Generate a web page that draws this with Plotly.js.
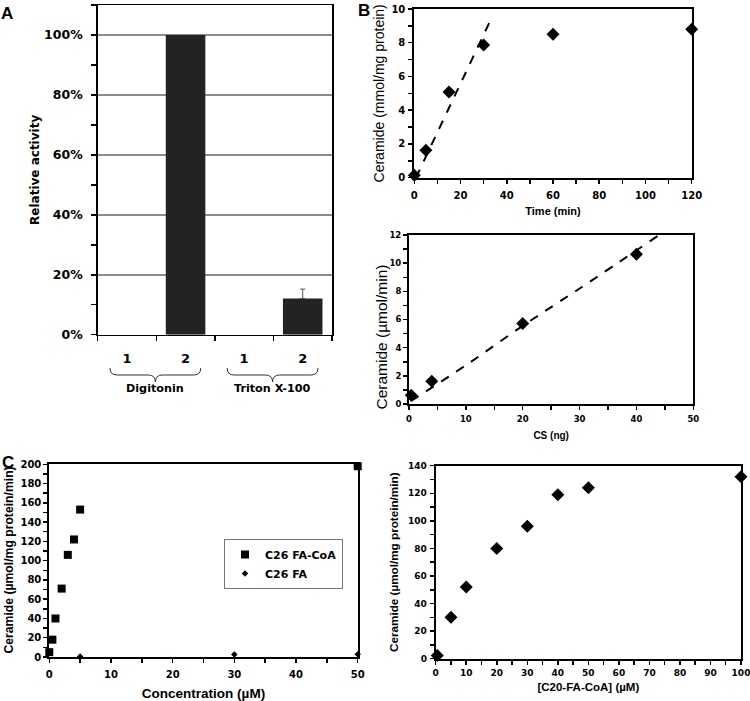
<!DOCTYPE html>
<html><head><meta charset="utf-8">
<script src="https://cdn.plot.ly/plotly-3.0.1.min.js"></script>
<style>html,body{margin:0;padding:0;background:#fff}#chart{width:750px;height:701px}</style>
</head><body><div id="chart"></div>
<script>
// ---- Panel A: relative activity ----
const detergents = ['Digitonin', 'Digitonin', 'Triton X-100', 'Triton X-100'];
const conditions = ['1', '2', '1', '2'];
const relActivity = [0, 1.0, 0, 0.121];
const relActivityErr = [0, 0, 0, 0.031];
// ---- Panel B (top): time course ----
const timeMin = [0, 5, 15, 30, 60, 120];
const ceramideTime = [0.15, 1.63, 5.08, 7.86, 8.5, 8.8];
const timeFitX = [0.7, 32.5];
const timeFitY = [0, 9.2];
// ---- Panel B (bottom): CS dependence ----
const csNg = [0.4, 4, 20, 40];
const ceramideCs = [0.62, 1.62, 5.72, 10.63];
const csFitX = [0.3, 10, 20, 30, 44];
const csFitY = [0.2, 2.75, 5.55, 8.2, 12];
// ---- Panel C (left): concentration ----
const concCoA = [0, 0.5, 1, 2, 3, 4, 5, 50];
const ceramideCoA = [5, 18, 40, 71, 106, 122, 153, 198];
const concFA = [5, 30, 50];
const ceramideFA = [0.5, 2.6, 2.8];
// ---- Panel C (right): C20-FA-CoA ----
const c20Conc = [0.5, 5, 10, 20, 30, 40, 50, 100];
const ceramideC20 = [2.3, 30, 52, 80, 96, 119, 124, 132];

const W = 750, H = 701;
const dx = (a, b) => [a / W, b / W];
const dy = (top, bottom) => [1 - bottom / H, 1 - top / H];

const barX = conditions.map((_, i) => i + 1);
const errPlus = relActivityErr.map(v => v > 0 ? v : NaN);
const errMinus = relActivityErr.map(v => v > 0 ? 0 : NaN);

const black = '#000';
const WIDE = 'DejaVu Sans, Verdana, sans-serif';
const ARIAL = 'Liberation Sans, Arial, sans-serif';
const wide = (size) => ({family: WIDE, size: size, weight: 'bold', color: black});
const arial = (size, weight) => ({family: ARIAL, size: size, weight: weight || 'bold', color: black});

const traces = [
  {type: 'bar', x: barX, y: relActivity, width: 0.675, xaxis: 'x', yaxis: 'y',
   marker: {color: '#232323', line: {width: 0}}, showlegend: false, hoverinfo: 'skip',
   error_y: {type: 'data', array: errPlus, symmetric: false, arrayminus: errMinus,
             color: '#555', thickness: 1, width: 2.5}},
  {type: 'scatter', mode: 'lines', x: timeFitX, y: timeFitY, xaxis: 'x2', yaxis: 'y2',
   line: {color: black, width: 2, dash: 'dash'}, showlegend: false, hoverinfo: 'skip'},
  {type: 'scatter', mode: 'markers', x: timeMin, y: ceramideTime, xaxis: 'x2', yaxis: 'y2', cliponaxis: false,
   marker: {symbol: 'diamond', size: 10, color: black}, showlegend: false},
  {type: 'scatter', mode: 'lines', x: csFitX, y: csFitY, xaxis: 'x3', yaxis: 'y3',
   line: {color: black, width: 2, dash: 'dash', shape: 'spline'}, showlegend: false, hoverinfo: 'skip'},
  {type: 'scatter', mode: 'markers', x: csNg, y: ceramideCs, xaxis: 'x3', yaxis: 'y3', cliponaxis: false,
   marker: {symbol: 'diamond', size: 10, color: black}, showlegend: false},
  {type: 'scatter', mode: 'markers', name: 'C26 FA-CoA', x: concCoA, y: ceramideCoA, xaxis: 'x4', yaxis: 'y4', cliponaxis: false,
   marker: {symbol: 'square', size: 8, color: black}},
  {type: 'scatter', mode: 'markers', name: 'C26 FA', x: concFA, y: ceramideFA, xaxis: 'x4', yaxis: 'y4', cliponaxis: false,
   marker: {symbol: 'diamond', size: 5, color: black}},
  {type: 'scatter', mode: 'markers', x: c20Conc, y: ceramideC20, xaxis: 'x5', yaxis: 'y5', cliponaxis: false,
   marker: {symbol: 'diamond', size: 10, color: black}, showlegend: false}
];

function ax(extra) {
  return Object.assign({
    showline: true, linecolor: black, linewidth: 2, mirror: true,
    ticks: 'outside', ticklen: 4, tickwidth: 1.5, tickcolor: black,
    showgrid: false, zeroline: false, fixedrange: true, ticklabeloverflow: 'allow'
  }, extra);
}
function minor(d) { return {dtick: d, ticks: 'outside', ticklen: 4, tickwidth: 1.5, tickcolor: black, showgrid: false}; }

// Braces under panel A groups
const groups = [];
detergents.forEach((d, i) => {
  const g = groups.find(g => g.name === d);
  if (g) g.end = i + 1; else groups.push({name: d, start: i + 1, end: i + 1});
});
const yTop = 1 - 368 / H, yMid = 1 - 375 / H, yBot = 1 - 382 / H;
const shapes = groups.map(g => {
  const x0 = g.start - 0.29, x1 = g.end + 0.26, xc = (x0 + x1) / 2, d = 0.12;
  return {type: 'path', xref: 'x', yref: 'paper', line: {color: '#333', width: 1},
    path: `M ${x0},${yTop} Q ${x0},${yMid} ${x0 + d},${yMid} L ${xc - d},${yMid} Q ${xc},${yMid} ${xc},${yBot} ` +
          `Q ${xc},${yMid} ${xc + d},${yMid} L ${x1 - d},${yMid} Q ${x1},${yMid} ${x1},${yTop}`};
});
const annotations = groups.map(g => ({
  xref: 'x', yref: 'paper', x: (g.start + g.end) / 2 - 0.02, y: 1 - 388 / H, text: g.name,
  showarrow: false, font: wide(11.2), xanchor: 'center', yanchor: 'middle'
}));
[['A', 7, 13], ['B', 364, 11], ['C', 8, 463]].forEach(([t, px, py]) => annotations.push({
  xref: 'paper', yref: 'paper', x: px / W, y: 1 - py / H, text: t, showarrow: false,
  font: arial(17), xanchor: 'center', yanchor: 'middle'
}));
// rotated y titles placed where the reference puts them
annotations.push({xref: 'paper', yref: 'paper', x: 380.5 / W, y: 1 - 337 / H, text: 'Ceramide (µmol/min)',
  textangle: -90, showarrow: false, font: arial(15.5, 'normal'), xanchor: 'center', yanchor: 'middle'});
annotations.push({xref: 'paper', yref: 'paper', x: 8.5 / W, y: 1 - 560 / H, text: 'Ceramide (µmol/mg protein/min)',
  textangle: -90, showarrow: false, font: arial(12.2), xanchor: 'center', yanchor: 'middle'});

const layout = {
  width: W, height: H, margin: {l: 0, r: 0, t: 0, b: 0},
  paper_bgcolor: '#fff', plot_bgcolor: '#fff',
  font: {family: ARIAL, size: 10, color: black, weight: 'bold'},
  showlegend: true,
  legend: {x: 224 / W, y: 1 - 539 / H, xanchor: 'left', yanchor: 'top', bordercolor: '#777', borderwidth: 1,
           bgcolor: '#fff', font: wide(11), tracegroupgap: 0, itemwidth: 30},
  xaxis: ax({domain: dx(97.7, 332), anchor: 'y', range: [0.5, 4.5], tickmode: 'array', tickvals: barX,
             ticktext: conditions, ticks: '', linewidth: 1.5, tickfont: wide(13), ticklabelstandoff: 11,
             minor: {tickvals: [0.5, 1.5, 2.5, 3.5, 4.5], ticks: 'outside', ticklen: 5, tickwidth: 1.5, tickcolor: black, showgrid: false}}),
  yaxis: ax({domain: dy(5, 334.7), anchor: 'x', range: [0, 1.1], tick0: 0, dtick: 0.2, tickformat: '.0%',
             linewidth: 1.5, ticklen: 5, showgrid: true, gridcolor: '#8c8c8c', gridwidth: 1.5, tickfont: wide(12.5),
             ticklabelstandoff: 6,
             minor: {dtick: 0.1, ticks: 'outside', ticklen: 5, tickwidth: 1.5, tickcolor: black, showgrid: false},
             title: {text: 'Relative activity', font: wide(12), standoff: 2}}),
  xaxis2: ax({domain: dx(414.3, 691.7), anchor: 'y2', range: [0, 120], dtick: 20, minor: minor(10),
              tickfont: wide(10), ticklabelstandoff: 3,
              title: {text: 'Time (min)', font: arial(11), standoff: 8}}),
  yaxis2: ax({domain: dy(9, 177.7), anchor: 'x2', range: [0, 10], dtick: 2, minor: minor(1),
              tickfont: wide(10), ticklabelstandoff: 1,
              title: {text: 'Ceramide (mmol/mg protein)', font: arial(14, 'normal'), standoff: 3}}),
  xaxis3: ax({domain: dx(409, 693.3), anchor: 'y3', range: [0, 50], dtick: 10, minor: minor(5),
              tickfont: wide(8.5), ticklabelstandoff: 2,
              title: {text: 'CS (ng)', font: arial(10), standoff: 9}}),
  yaxis3: ax({domain: dy(235, 404), anchor: 'x3', range: [0, 12], dtick: 2, minor: minor(1), tickfont: wide(8.5)}),
  xaxis4: ax({domain: dx(49.3, 357.7), anchor: 'y4', range: [0, 50], dtick: 10, minor: minor(5),
              tickfont: wide(10), ticklabelstandoff: 3,
              title: {text: 'Concentration (µM)', font: arial(13.5), standoff: 9.5}}),
  yaxis4: ax({domain: dy(464.3, 657), anchor: 'x4', range: [0, 200], dtick: 20, minor: minor(10), tickfont: wide(10)}),
  xaxis5: ax({domain: dx(435.7, 741), anchor: 'y5', range: [0, 100], dtick: 10, minor: minor(5), tickfont: wide(9),
              title: {text: '[C20-FA-CoA] (µM)', font: arial(11.5), standoff: 6}}),
  yaxis5: ax({domain: dy(465.7, 658.7), anchor: 'x5', range: [0, 140], dtick: 20, minor: minor(10), tickfont: wide(9),
              ticklabelstandoff: 1,
              title: {text: 'Ceramide (µmol/mg protein/min)', font: arial(11.7), standoff: 7}}),
  shapes: shapes,
  annotations: annotations
};

Plotly.newPlot('chart', traces, layout, {displayModeBar: false, staticPlot: true});
</script>
</body></html>
